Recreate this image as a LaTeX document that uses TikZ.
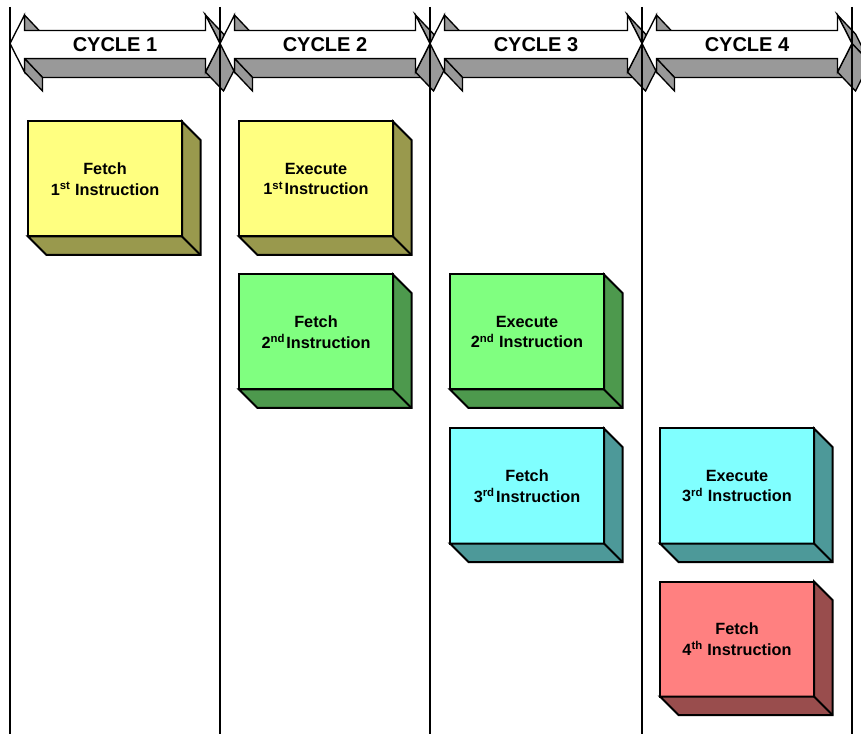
\documentclass[tikz,border=0pt]{standalone}
\usepackage{fontspec}
\setmainfont{Liberation Sans}
\definecolor{yellowF}{RGB}{255,255,128}
\definecolor{yellowS}{RGB}{153,153,77}
\definecolor{greenF}{RGB}{128,255,128}
\definecolor{greenS}{RGB}{77,153,77}
\definecolor{cyanF}{RGB}{128,255,255}
\definecolor{cyanS}{RGB}{77,153,153}
\definecolor{redF}{RGB}{255,128,128}
\definecolor{redS}{RGB}{153,77,77}
\definecolor{arrgray}{RGB}{153,153,153}
\tikzset{
  arrside/.style={fill=arrgray, draw=black, line width=1pt, line join=miter},
  arrfront/.style={fill=white, draw=black, line width=1pt, line join=miter},
  cyclelabel/.style={font=\fontsize{15}{18}\selectfont\bfseries, inner sep=0pt, anchor=base},
  instr/.style={draw=black, line width=1.5pt, minimum width=115.5pt, minimum height=86.25pt,
    inner sep=0pt, outer sep=0pt, align=center, font=\fontsize{12.2}{15.5}\selectfont\bfseries},
  instrside/.style={draw=black, line width=1.5pt, line join=miter},
  vline/.style={draw=black, line width=1.1pt}
}
\newcommand\cyclearrow[4]{%
  \pgfmathsetmacro\aL{#1}\pgfmathsetmacro\aR{#2}%
  \pgfmathsetmacro\aLi{#1+14.5}\pgfmathsetmacro\aRi{#2-14.5}%
  \pgfmathsetmacro\aM{(#1+#2)/2}%
  \path[arrside] (\aLi,15) -- (\aLi,30.5) -- ++(18,19) -- ({\aLi+18},34) -- cycle;
  \path[arrside] (\aLi,58.5) -- (\aRi,58.5) -- ++(18,19) -- ({\aLi+18},77.5) -- cycle;
  \path[arrside] (\aLi,58.5) -- (\aLi,72) -- ++(18,19) -- ({\aLi+18},77.5) -- cycle;
  \path[arrside] (\aRi,15) -- (\aR,43.5) -- ++(18,19) -- ({\aRi+18},34) -- cycle;
  \path[arrside] (\aR,43.5) -- (\aRi,72) -- ++(18,19) -- ({\aR+18},62.5) -- cycle;
  \path[arrfront] (\aL,43.5) -- (\aLi,15) -- (\aLi,30.5) -- (\aRi,30.5) -- (\aRi,15)
     -- (\aR,43.5) -- (\aRi,72) -- (\aRi,58.5) -- (\aLi,58.5) -- (\aLi,72) -- cycle;
  \node[cyclelabel] (#4) at (\aM,51.3) {#3};
}
\newcommand\instrbox[5]{%
  \node[instr, fill=#4F] (#1) at (#2,#3) {#5};
  \path[instrside, fill=#4S] (#1.north east) -- ([shift={(18.5,18.5)}]#1.north east)
     -- ([shift={(18.5,18.5)}]#1.south east) -- ([shift={(18.5,18.5)}]#1.south west)
     -- (#1.south west) -- (#1.south east) -- cycle;
  \draw[instrside] (#1.south east) -- ([shift={(18.5,18.5)}]#1.south east);
}
\begin{document}
\begin{tikzpicture}[x=0.75pt,y=-0.75pt]
\useasboundingbox (0,0) rectangle (861,734);
\fill[white] (0,0) rectangle (861,734);
\cyclearrow{10}{220}{CYCLE 1}{c1}
\cyclearrow{220}{430}{CYCLE 2}{c2}
\cyclearrow{430}{642}{CYCLE 3}{c3}
\cyclearrow{642}{852}{CYCLE 4}{c4}
\foreach \xx/\nn in {10/1,220/2,430/3,642/4,852/5}{
  \coordinate (t\nn) at (\xx,7);
  \coordinate (b\nn) at (\xx,734);
  \draw[vline] (t\nn) -- (b\nn);
}
\instrbox{f1}{105}{179}{yellow}{Fetch\\1\textsuperscript{st} Instruction}
\instrbox{e1}{316}{179}{yellow}{Execute\\1\textsuperscript{st}\hspace{1pt}Instruction}
\instrbox{f2}{316}{332}{green}{Fetch\\2\textsuperscript{nd}\hspace{1pt}Instruction}
\instrbox{e2}{527}{332}{green}{Execute\\2\textsuperscript{nd} Instruction}
\instrbox{f3}{527}{486}{cyan}{Fetch\\3\textsuperscript{rd}\hspace{1pt}Instruction}
\instrbox{e3}{737}{486}{cyan}{Execute\\3\textsuperscript{rd} Instruction}
\instrbox{f4}{737}{639}{red}{Fetch\\4\textsuperscript{th} Instruction}
\end{tikzpicture}
\end{document}
